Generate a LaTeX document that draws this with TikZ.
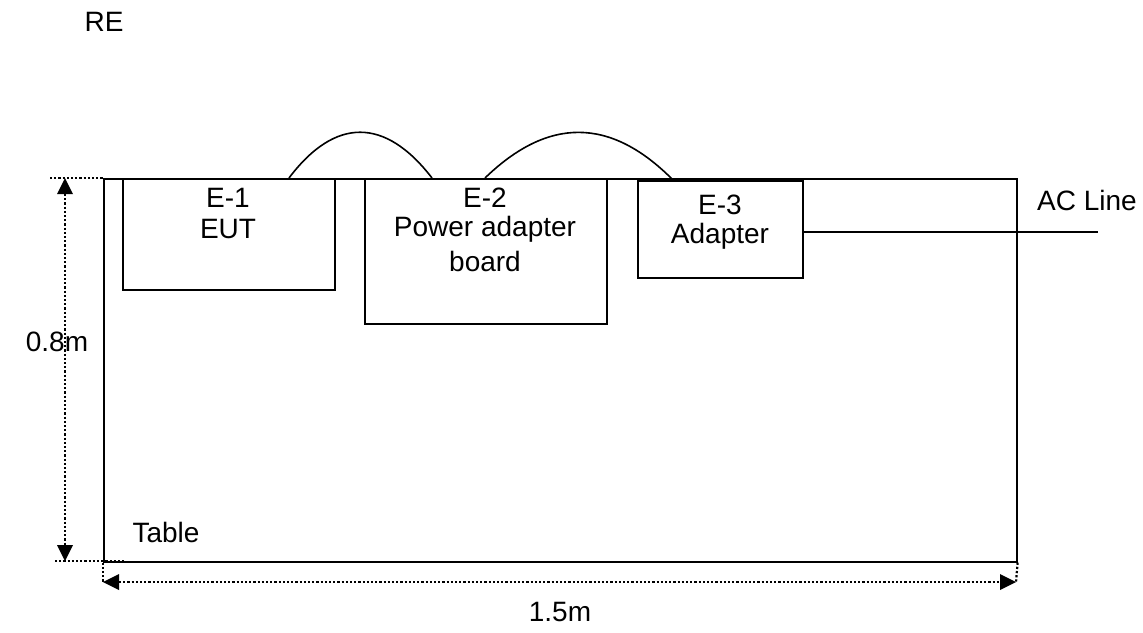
\documentclass[tikz,border=0pt]{standalone}
\usepackage{fontspec}
\setmainfont{Liberation Sans}
\usetikzlibrary{arrows.meta}
\begin{document}
\begin{tikzpicture}[x=1pt,y=-1pt,
  box/.style={draw, line width=1.6pt, anchor=north west, inner sep=0pt},
  lbl/.style={font=\fontsize{28}{32}\selectfont, inner sep=0pt},
  dim/.style={line width=2.2pt, dotted},
  dimarrow/.style={line width=2.2pt, dotted, {Triangle[length=16pt,width=16pt,line width=0pt]}-{Triangle[length=16pt,width=16pt,line width=0pt]}},
  wire/.style={line width=1.6pt}]
\useasboundingbox (0,0) rectangle (1143,632);
\fill[white] (0,0) rectangle (1143,632);
% table
\node[box, minimum width=913pt, minimum height=383pt] (table) at (103,178) {};
% equipment
\node[box, minimum width=212pt, minimum height=111pt] (e1) at (122,178) {};
\node[box, minimum width=242pt, minimum height=145pt] (e2) at (364,178) {};
\node[box, minimum width=165pt, minimum height=97pt] (e3) at (637,180) {};
% labels
\node[lbl] (re) at (104,22) {RE};
\node[lbl] (e1a) at (228,198) {E-1};
\node[lbl] (e1b) at (228,229) {EUT};
\node[lbl] (e2a) at (485,198) {E-2};
\node[lbl] (e2b) at (485,229) {Power adapter};
\node[lbl] (e2c) at (485,261) {board};
\node[lbl] (e3a) at (720,205) {E-3};
\node[lbl] (e3b) at (720,236) {Adapter};
\node[lbl] (ac) at (1087,200) {AC Line};
\node[lbl] (h) at (57,342) {0.8m};
\node[lbl] (tbl) at (166,532) {Table};
\node[lbl] (w) at (560,612) {1.5m};
% cables
\coordinate (c1s) at (289,178);
\coordinate (c1e) at (432,178);
\coordinate (c2s) at (485,178);
\coordinate (c2e) at (672,179);
\draw[wire] (c1s) .. controls (335,117) and (385,117) .. (c1e);
\draw[wire] (c2s) .. controls (548,117) and (610,117) .. (c2e);
\coordinate (acend) at (1098,232);
\draw[wire] (e3.east |- acend) -- (acend);
% dimensions
\coordinate (tl) at (50,178);
\coordinate (bl) at (55,561);
\coordinate (br) at (125,561);
\coordinate (va) at (65,178);
\coordinate (vb) at (65,561);
\coordinate (ha) at (103,582);
\coordinate (hb) at (1016,582);
\draw[dim] (tl) -- (table.north west);
\draw[dim] (bl) -- (br);
\draw[dimarrow] (va) -- (vb);
\draw[dim] (table.south west) -- (ha);
\draw[dim] (table.south east) -- (hb);
\draw[dimarrow] (ha) -- (hb);
\end{tikzpicture}
\end{document}
